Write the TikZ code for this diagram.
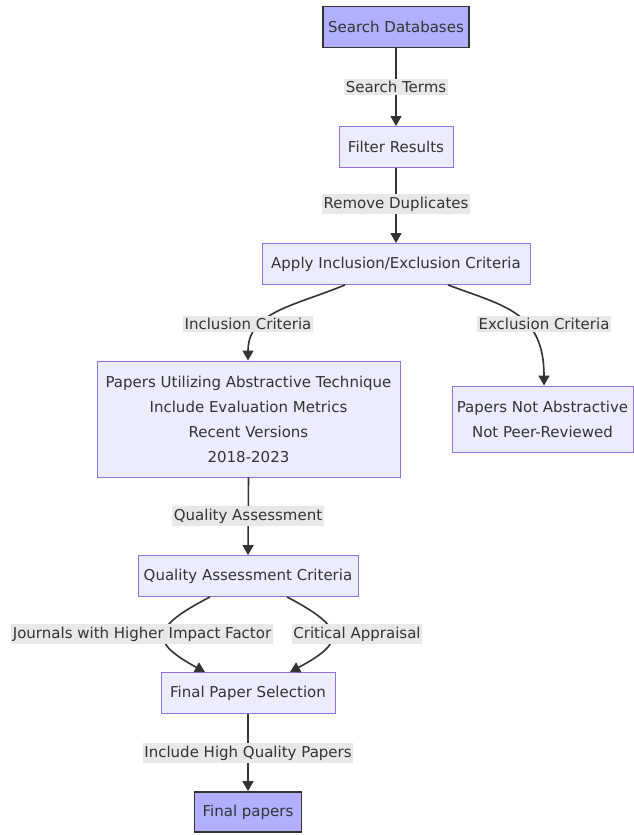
\documentclass[tikz,border=0pt]{standalone}
\usepackage{fontspec}
\setmainfont{DejaVu Sans}
\usetikzlibrary{arrows.meta}
\definecolor{boxfill}{HTML}{ECECFF}
\definecolor{boxline}{HTML}{9370DB}
\definecolor{keyfill}{HTML}{B0B0FF}
\definecolor{ink}{HTML}{333333}
\definecolor{tagfill}{HTML}{E8E8E8}
\tikzset{
  stepbox/.style={draw=boxline, fill=boxfill, line width=0.9pt, text=ink,
    font=\fontsize{15}{25}\selectfont, align=center, inner sep=0pt},
  keybox/.style={stepbox, draw=ink, fill=keyfill, line width=1.8pt},
  tag/.style={fill=tagfill, text=ink, font=\fontsize{15}{18}\selectfont,
    inner xsep=1.5pt, inner ysep=2.5pt},
  link/.style={draw=ink, line width=1.6pt, -{Triangle[length=10pt,width=11pt]}}
}
\begin{document}
\begin{tikzpicture}[x=1pt,y=-1pt]
\useasboundingbox (0,0) rectangle (634,835);
% nodes
\node[keybox, minimum width=146pt, minimum height=41pt] (db) at (396,27) {Search Databases};
\node[stepbox, minimum width=114pt, minimum height=41pt] (filt) at (396,147) {Filter Results};
\node[stepbox, minimum width=268pt, minimum height=41pt] (apply) at (396,264) {Apply Inclusion/Exclusion Criteria};
\node[stepbox, minimum width=303pt, minimum height=116pt] (incl) at (248.5,419) {Papers Utilizing Abstractive Technique\\Include Evaluation Metrics\\Recent Versions\\2018-2023};
\node[stepbox, minimum width=181pt, minimum height=66pt] (excl) at (542.5,419) {Papers Not Abstractive\\Not Peer-Reviewed};
\node[stepbox, minimum width=220pt, minimum height=41pt] (qac) at (248,576) {Quality Assessment Criteria};
\node[stepbox, minimum width=174pt, minimum height=41pt] (fps) at (248,693) {Final Paper Selection};
\node[keybox, minimum width=107pt, minimum height=40pt] (fin) at (248,812) {Final papers};
% connectors
\draw[link] (db.south) -- (filt.north);
\draw[link] (filt.south) -- (apply.north);
\draw[link] ([xshift=-51pt]apply.south) .. controls (294,306) and (248,312) .. ([xshift=-0.5pt]incl.north);
\draw[link] ([xshift=52pt]apply.south) .. controls (504,306) and (544,312) .. ([xshift=1.5pt]excl.north);
\draw[link] (incl.south) -- (qac.north);
\draw[link] ([xshift=-38pt]qac.south) .. controls (150,628) and (150,642) .. ([xshift=-43pt]fps.north);
\draw[link] ([xshift=39pt]qac.south) .. controls (346,628) and (346,642) .. ([xshift=42pt]fps.north);
\draw[link] (fps.south) -- (fin.north);
% edge labels
\node[tag] (t1) at (396,87) {Search Terms};
\node[tag] (t2) at (396,204) {Remove Duplicates};
\node[tag] (t3) at (248,324) {Inclusion Criteria};
\node[tag] (t4) at (544,324) {Exclusion Criteria};
\node[tag] (t5) at (248,516) {Quality Assessment};
\node[tag] (t6) at (142,634) {Journals with Higher Impact Factor};
\node[tag] (t7) at (357,634) {Critical Appraisal};
\node[tag] (t8) at (248,753) {Include High Quality Papers};
\end{tikzpicture}
\end{document}
